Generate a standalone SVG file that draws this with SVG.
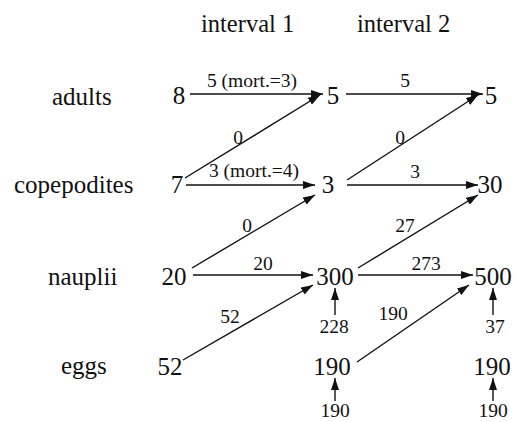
<svg xmlns="http://www.w3.org/2000/svg" width="517" height="422" viewBox="0 0 517 422" font-family="'Liberation Serif', 'DejaVu Serif', 'Times New Roman', serif">
<style>
text{font-family:"Liberation Serif","DejaVu Serif","Times New Roman",serif;fill:#111}
.h{font-size:24.5px}
.n{font-size:25px;text-anchor:middle}
.r{font-size:25px}
.l{font-size:19.5px;text-anchor:middle}
.c line{stroke:#111;stroke-width:1.4;marker-end:url(#a)}
</style>
<defs>
<marker id="a" viewBox="0 0 12 8" refX="12" refY="4" markerWidth="12" markerHeight="8" markerUnits="userSpaceOnUse" orient="auto">
<path d="M0,0 L12,4 L0,8 Z" fill="#111"/>
</marker>
</defs>
<g id="headers">
<text class="h" x="201" y="32">interval 1</text>
<text class="h" x="357" y="32">interval 2</text>
</g>
<g id="row-labels">
<text class="r" x="52" y="105">adults</text>
<text class="r" x="14" y="193">copepodites</text>
<text class="r" x="48" y="285">nauplii</text>
<text class="r" x="61" y="374">eggs</text>
</g>
<g id="a0"><text class="n" x="179" y="104">8</text></g>
<g id="a1"><text class="n" x="333" y="104">5</text></g>
<g id="a2"><text class="n" x="491" y="104">5</text></g>
<g id="c0"><text class="n" x="177" y="193">7</text></g>
<g id="c1"><text class="n" x="328" y="193">3</text></g>
<g id="c2"><text class="n" x="490" y="193">30</text></g>
<g id="n0"><text class="n" x="174" y="285">20</text></g>
<g id="n1"><text class="n" x="335" y="285">300</text></g>
<g id="n2"><text class="n" x="493" y="285">500</text></g>
<g id="e0"><text class="n" x="170" y="375">52</text></g>
<g id="e1"><text class="n" x="332" y="375">190</text></g>
<g id="e2"><text class="n" x="492" y="375">190</text></g>
<g id="connectors" class="c">
<line x1="190" y1="94" x2="323" y2="94"/>
<line x1="346" y1="94" x2="483" y2="94"/>
<line x1="185" y1="178" x2="320" y2="95"/>
<line x1="347" y1="180" x2="478" y2="95"/>
<line x1="186" y1="185" x2="315" y2="185"/>
<line x1="347" y1="185" x2="478" y2="185"/>
<line x1="192" y1="268" x2="315" y2="195"/>
<line x1="358" y1="268" x2="478" y2="195"/>
<line x1="193" y1="275" x2="313" y2="275"/>
<line x1="358" y1="275" x2="473" y2="275"/>
<line x1="183" y1="360" x2="313" y2="285"/>
<line x1="357" y1="362" x2="469" y2="285"/>
<line x1="335" y1="315" x2="335" y2="288"/>
<line x1="493" y1="315" x2="493" y2="288"/>
<line x1="335" y1="401" x2="335" y2="378"/>
<line x1="493" y1="401" x2="493" y2="378"/>
</g>
<g id="labels">
<text class="l" x="252" y="87">5 (mort.=3)</text>
<text class="l" x="405" y="87">5</text>
<text class="l" x="238" y="144">0</text>
<text class="l" x="400" y="144">0</text>
<text class="l" x="254" y="177">3 (mort.=4)</text>
<text class="l" x="415" y="178">3</text>
<text class="l" x="247" y="232">0</text>
<text class="l" x="405" y="232">27</text>
<text class="l" x="263" y="270">20</text>
<text class="l" x="426" y="270">273</text>
<text class="l" x="230" y="323">52</text>
<text class="l" x="393" y="320">190</text>
<text class="l" x="334" y="333">228</text>
<text class="l" x="495" y="333">37</text>
<text class="l" x="335" y="417">190</text>
<text class="l" x="493" y="417">190</text>
</g>
</svg>
